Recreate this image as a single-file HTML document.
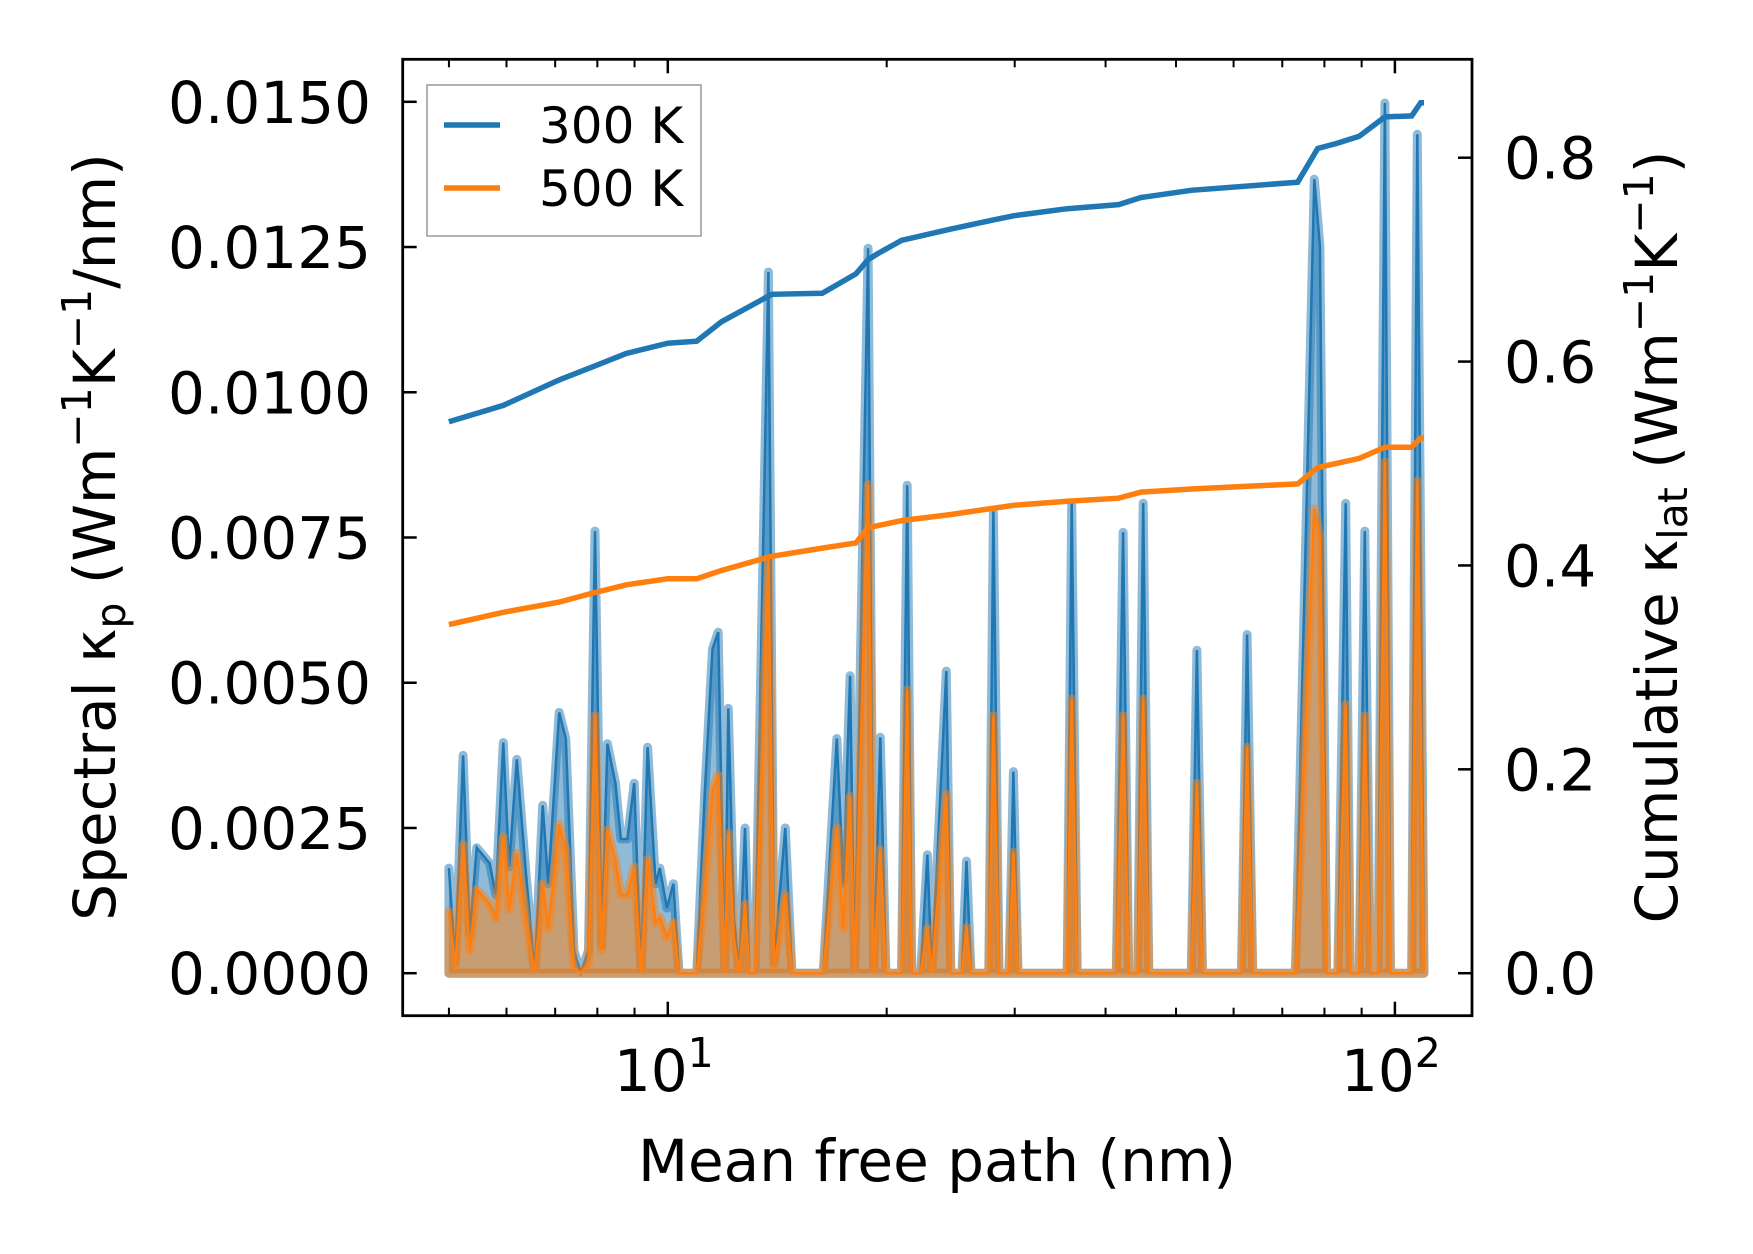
<!DOCTYPE html>
<html><head><meta charset="utf-8"><style>
html,body{margin:0;padding:0;background:#fff}
svg{display:block;font-family:"DejaVu Sans","Liberation Sans",sans-serif}
</style></head><body>
<svg id="chart" width="1753" height="1254" viewBox="0 0 1753 1254" xmlns="http://www.w3.org/2000/svg">
<g id="marks"></g>
<g id="axes"></g>
</svg>
<script>
const mfp = [5.00,5.10,5.23,5.34,5.46,5.69,5.80,5.94,6.05,6.20,6.38,6.56,6.73,6.85,7.09,7.24,7.43,7.59,7.78,7.94,8.11,8.26,8.47,8.62,8.80,8.99,9.19,9.38,9.62,9.75,9.97,10.18,10.36,10.96,11.24,11.52,11.73,11.98,12.11,12.33,12.54,12.77,12.95,13.18,13.75,14.00,14.51,14.82,16.36,17.08,17.44,17.81,18.07,18.86,19.19,19.60,19.95,20.97,21.34,21.65,22.27,22.75,23.07,24.16,24.50,25.39,25.75,26.12,27.64,28.04,28.54,29.46,29.88,30.31,35.42,35.93,36.57,41.39,42.28,43.04,44.28,45.07,45.87,52.48,53.42,54.38,61.53,62.63,63.75,72.98,77.48,78.87,80.56,83.48,85.58,86.81,89.30,90.90,92.52,94.83,96.87,98.59,105.46,107.35,109.65];
const spec300 = [0.00181,0.00019,0.00375,0.00067,0.00216,0.00189,0.00135,0.00397,0.00183,0.00368,0.00173,0,0.00289,0.00154,0.00449,0.00404,0.00039,0,0.00039,0.00761,0.00048,0.00395,0.00327,0.00231,0.00231,0.00327,0,0.00389,0.00154,0.00181,0.00112,0.00154,0,0,0.00308,0.00558,0.00587,0,0.00456,0.00096,0,0.0025,0,0,0.01207,0.00019,0.0025,0,0,0.00404,0.00154,0.00512,0,0.01248,0,0.00406,0,0,0.0084,0,0,0.00204,0,0.0052,0,0,0.00193,0,0,0.00795,0,0,0.00347,0,0,0.00809,0,0,0.00759,0,0,0.00809,0,0,0.00556,0,0,0.00583,0,0,0.01367,0.01252,0,0,0.00809,0,0,0.00761,0,0,0.01498,0,0,0.01444,0];
const spec500 = [0.00106,0.0001,0.00221,0.00039,0.00144,0.00119,0.00096,0.00235,0.0011,0.00206,0.00096,0,0.00154,0.00077,0.00256,0.00212,0.0001,0,0.00019,0.00443,0.0004,0.00246,0.00193,0.00135,0.00135,0.00183,0,0.00196,0.00087,0.00096,0.00062,0.00087,0,0,0.00144,0.00314,0.00341,0,0.00241,0.00058,0,0.00119,0,0,0.00712,0.0001,0.00135,0,0,0.0025,0.00077,0.00304,0,0.00841,0,0.00212,0,0,0.00487,0,0,0.00077,0,0.00308,0,0,0.00079,0,0,0.00443,0,0,0.00208,0,0,0.00472,0,0,0.00443,0,0,0.00472,0,0,0.00327,0,0,0.00389,0,0,0.00799,0.00751,0,0,0.00462,0,0,0.00443,0,0,0.0088,0,0,0.00847,0];
const cumX300 = [5.00,5.94,7.09,7.89,8.77,10.0,10.96,11.85,13.9,16.31,18.14,18.86,19.46,20.97,24.5,28.04,29.88,35.42,41.69,44.76,52.48,73.5,78.3,83.2,89.3,96.87,105.46,108.5,109.65];
const cum300 = [0.541,0.557,0.582,0.595,0.608,0.618,0.620,0.639,0.666,0.667,0.686,0.700,0.706,0.719,0.730,0.739,0.743,0.750,0.754,0.761,0.768,0.776,0.809,0.814,0.821,0.840,0.841,0.854,0.854];
const cumX500 = [5.00,5.94,7.09,7.89,8.77,10.0,10.96,11.85,13.9,16.31,18.14,18.86,20.97,24.5,29.88,35.42,41.69,44.76,52.48,73.5,78.3,89.3,96.87,105.46,108.5,109.65];
const cum500 = [0.342,0.354,0.364,0.373,0.381,0.387,0.387,0.395,0.409,0.417,0.422,0.437,0.444,0.450,0.459,0.463,0.466,0.472,0.475,0.480,0.496,0.505,0.516,0.516,0.525,0.525];
const leftTicks = [0,0.0025,0.005,0.0075,0.01,0.0125,0.015];
const leftTickLabels = ["0.0000","0.0025","0.0050","0.0075","0.0100","0.0125","0.0150"];
const rightTicks = [0,0.2,0.4,0.6,0.8];
const rightTickLabels = ["0.0","0.2","0.4","0.6","0.8"];
const seriesNames = ["300 K","500 K"];

const NS="http://www.w3.org/2000/svg";
const AX={l:402.7,r:1472,t:59.3,b:1015.7};
function xs(v){return 667.8+(Math.log10(v)-1)*727.1;}
function yl(v){return 973.2-v*(871.4/0.015);}
function yr(v){return 973.2-v*(815.5/0.8);}
const marks=document.getElementById('marks'), axes=document.getElementById('axes');
function mk(tag,attrs,parent,txt){const e=document.createElementNS(NS,tag);for(const k in attrs)e.setAttribute(k,attrs[k]);if(txt!==undefined)e.textContent=txt;parent.appendChild(e);return e;}
function linePts(xa,ya,ys){return xa.map((x,i)=>xs(x).toFixed(1)+','+ys(ya[i]).toFixed(1)).join(' ');}
function areaD(xa,ya){let d='M'+xs(xa[0]).toFixed(1)+','+yl(0).toFixed(1);xa.forEach((x,i)=>{d+=' L'+xs(x).toFixed(1)+','+yl(ya[i]).toFixed(1);});d+=' L'+xs(xa[xa.length-1]).toFixed(1)+','+yl(0).toFixed(1)+' Z';return d;}

let e;
e=mk('path',{d:areaD(mfp,spec300),fill:'#1f77b4','fill-opacity':0.5,stroke:'#1f77b4','stroke-opacity':0.5,'stroke-width':9,'stroke-linejoin':'round'},marks);


e=mk('polyline',{points:linePts(mfp,spec300,yl),fill:'none',stroke:'#1f77b4','stroke-width':2.5},marks);


e=mk('path',{d:areaD(mfp,spec500),fill:'#ff7f0e','fill-opacity':0.5,stroke:'#ff7f0e','stroke-opacity':0.5,'stroke-width':9,'stroke-linejoin':'round'},marks);


e=mk('polyline',{points:linePts(mfp,spec500,yl),fill:'none',stroke:'#ff7f0e','stroke-width':2.5},marks);


e=mk('polyline',{points:linePts(cumX300,cum300,yr),fill:'none',stroke:'#1f77b4','stroke-width':5.5},marks);


e=mk('polyline',{points:linePts(cumX500,cum500,yr),fill:'none',stroke:'#ff7f0e','stroke-width':5.5},marks);



e=mk('rect',{x:AX.l,y:AX.t,width:AX.r-AX.l,height:AX.b-AX.t,fill:'none',stroke:'#000','stroke-width':2.8},axes);


leftTicks.forEach((v,i)=>{const y=yl(v);
 const t=mk('line',{x1:AX.l,x2:AX.l+14,y1:y,y2:y,stroke:'#000','stroke-width':2.5},axes);
 
 
 const l=mk('text',{x:371,y:y+21,'text-anchor':'end','font-size':58},axes,leftTickLabels[i]);
 
 
});
rightTicks.forEach((v,i)=>{const y=yr(v);
 const t=mk('line',{x1:AX.r-14,x2:AX.r,y1:y,y2:y,stroke:'#000','stroke-width':2.5},axes);
 
 
 const l=mk('text',{x:1504,y:y+21,'text-anchor':'start','font-size':58},axes,rightTickLabels[i]);
 
 
});
[1,10,100].forEach(dec=>{for(let m=1;m<10;m++){const v=dec*m;const x=xs(v);if(x<AX.l+1||x>AX.r-1)continue;const len=m===1?14:8;const w=m===1?2.5:2;
 const t1=mk('line',{x1:x,x2:x,y1:AX.b,y2:AX.b-len,stroke:'#000','stroke-width':w},axes);
 
 
 const t2=mk('line',{x1:x,x2:x,y1:AX.t,y2:AX.t+len,stroke:'#000','stroke-width':w},axes);
 
 
}});
[[10,'1'],[100,'2']].forEach(([v,p])=>{const x=xs(v);
 const l=mk('text',{x:x-4,y:1091,'text-anchor':'middle','font-size':58},axes);
 
 
 l.innerHTML='10<tspan font-size="41" dy="-24">'+p+'</tspan>';
});
e=mk('text',{x:937,y:1181,'text-anchor':'middle','font-size':58},axes,'Mean free path (nm)');


e=mk('text',{transform:'translate(115,537) rotate(-90)','text-anchor':'middle','font-size':58},axes);


e.innerHTML='Spectral κ<tspan font-size="41" dy="10">p</tspan><tspan dy="-10"> (Wm</tspan><tspan font-size="41" dy="-24">−1</tspan><tspan dy="24">K</tspan><tspan font-size="41" dy="-24">−1</tspan><tspan dy="24">/nm)</tspan>';
e=mk('text',{transform:'translate(1677,537) rotate(-90)','text-anchor':'middle','font-size':58},axes);


e.innerHTML='Cumulative κ<tspan font-size="41" dy="10">lat</tspan><tspan dy="-10"> (Wm</tspan><tspan font-size="41" dy="-24">−1</tspan><tspan dy="24">K</tspan><tspan font-size="41" dy="-24">−1</tspan><tspan dy="24">)</tspan>';
const lg=mk('g',{},axes);


mk('rect',{x:427,y:85,width:274,height:151,fill:'#fff','fill-opacity':0.8,stroke:'#999','stroke-width':1.5},lg);
const lgColors=['#1f77b4','#ff7f0e'];
seriesNames.forEach((n,i)=>{const y=125+i*63;
 const g=mk('g',{},lg);
 
 
 mk('line',{x1:444,x2:500,y1:y,y2:y,stroke:lgColors[i],'stroke-width':5.5},g);
 mk('text',{x:539,y:y+18,'font-size':50},g,n);
});
</script>
</body></html>
